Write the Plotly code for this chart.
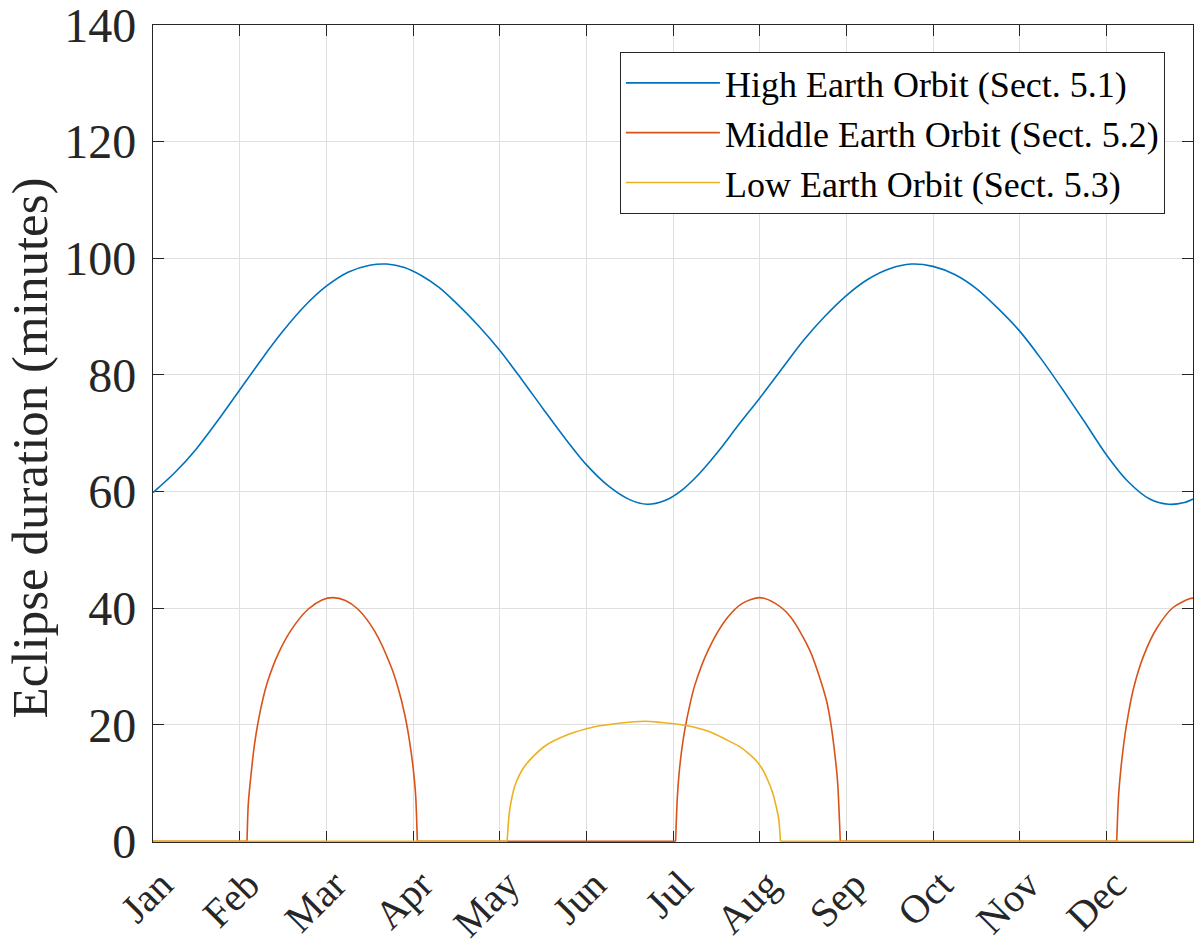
import plotly.graph_objects as go

# months as fractional position on the year axis (0 = Jan 1, 12 = end of Dec)
month_labels = ["Jan", "Feb", "Mar", "Apr", "May", "Jun",
                "Jul", "Aug", "Sep", "Oct", "Nov", "Dec"]
month_ticks = list(range(12))

# High Earth Orbit (Sect. 5.1)
heo_t = [0.0, 0.25, 0.5, 0.75, 1.0, 1.25, 1.5, 1.75, 2.0, 2.25, 2.5, 2.7, 2.9,
         3.1, 3.3, 3.5, 3.75, 4.0, 4.25, 4.5, 4.75, 5.0, 5.25, 5.5, 5.7, 5.9,
         6.1, 6.3, 6.54, 6.75, 7.0, 7.25, 7.5, 7.75, 8.0, 8.25, 8.5, 8.75,
         9.0, 9.25, 9.5, 9.75, 10.0, 10.25, 10.5, 10.75, 11.0, 11.25, 11.5,
         11.72, 11.9, 12.0]
heo_min = [59.8, 63.2, 67.3, 72.2, 77.4, 82.6, 87.5, 91.8, 95.2, 97.6, 98.8,
           99.0, 98.4, 97.0, 95.0, 92.3, 88.5, 84.2, 79.3, 74.2, 69.2, 64.6,
           61.0, 58.6, 57.8, 58.4, 60.2, 63.0, 67.2, 71.3, 76.0, 80.9, 85.8,
           90.0, 93.6, 96.4, 98.2, 99.0, 98.6, 97.2, 94.8, 91.4, 87.5, 82.7,
           77.4, 71.9, 66.3, 61.7, 58.7, 57.8, 58.1, 58.7]

# Middle Earth Orbit (Sect. 5.2)
meo_t = [0.0, 1.085, 1.10, 1.135, 1.17, 1.212, 1.265, 1.327, 1.443, 1.597,
         1.789, 1.95, 2.078, 2.22, 2.366, 2.559, 2.751, 2.83, 2.905, 2.96,
         3.0, 3.03, 3.05,
         6.03, 6.05, 6.07, 6.10, 6.137, 6.19, 6.25, 6.406, 6.62, 6.80, 7.0,
         7.18, 7.35, 7.58, 7.77, 7.82, 7.87, 7.90, 7.93,
         11.12, 11.14, 11.165, 11.20, 11.235, 11.31, 11.43, 11.58, 11.77,
         11.96, 12.0]
meo_min = [0.0, 0.0, 6.5, 12.0, 16.5, 20.4, 24.2, 27.6, 32.1, 36.3,
           39.8, 41.4, 41.8, 41.3, 39.8, 36.0, 29.8, 26.2, 21.7, 17.2,
           12.8, 8.0, 0.0,
           0.0, 7.5, 11.6, 15.6, 19.2, 23.1, 26.7, 32.8, 38.2, 40.8, 41.8,
           40.8, 38.6, 32.7, 24.2, 20.3, 14.6, 10.0, 0.0,
           0.0, 7.5, 12.0, 16.6, 20.2, 26.0, 31.8, 36.5, 40.1,
           41.6, 41.7]

# Low Earth Orbit (Sect. 5.3)
leo_t = [0.0, 4.086, 4.10, 4.117, 4.175, 4.29, 4.52, 4.79, 5.098, 5.40, 5.675,
         5.85, 6.137, 6.40, 6.62, 6.75, 6.87, 6.95, 7.03, 7.09, 7.15, 7.19,
         7.22, 7.24, 12.0]
leo_min = [0.0, 0.0, 3.0, 5.5, 9.5, 12.9, 16.3, 18.3, 19.65, 20.3, 20.6,
           20.4, 19.9, 18.9, 17.4, 16.4, 15.1, 14.0, 12.4, 10.6, 8.3, 6.0,
           3.8, 0.0, 0.0]

FONT = "Liberation Serif"
INK = "#262626"


def split_at_corners(t, v):
    # break the line where a flat zero run meets an arc, so the spline
    # keeps the sharp corner at the baseline
    xs, ys = [], []
    n = len(t)
    for i in range(n):
        xs.append(t[i]); ys.append(v[i])
        if 0 < i < n - 1 and v[i] == 0 and ((v[i - 1] == 0) != (v[i + 1] == 0)):
            xs += [None, t[i]]; ys += [None, v[i]]
    return xs, ys


fig = go.Figure()
fig.add_trace(go.Scatter(x=heo_t, y=heo_min, mode="lines",
                         line=dict(color="#0072BD", width=1.6, shape="spline", smoothing=0.8),
                         name="High Earth Orbit (Sect. 5.1)"))
mx, my = split_at_corners(meo_t, meo_min)
fig.add_trace(go.Scatter(x=mx, y=my, mode="lines", connectgaps=False,
                         line=dict(color="#D95319", width=1.6, shape="spline", smoothing=0.8),
                         name="Middle Earth Orbit (Sect. 5.2)"))
lx, ly = split_at_corners(leo_t, leo_min)
fig.add_trace(go.Scatter(x=lx, y=ly, mode="lines", connectgaps=False,
                         line=dict(color="#EDB120", width=1.6, shape="spline", smoothing=0.8),
                         name="Low Earth Orbit (Sect. 5.3)"))

axis_common = dict(
    showline=True, linecolor=INK, linewidth=1.3, mirror="ticks",
    ticks="inside", ticklen=11, tickwidth=1.3, tickcolor=INK,
    showgrid=True, gridcolor="#dfdfdf", gridwidth=1,
    zeroline=False, layer="below traces", automargin=False,
    ticklabeloverflow="allow",
)

fig.update_xaxes(range=[0, 12], tickvals=month_ticks, ticktext=month_labels,
                 tickangle=-45, ticklabelstandoff=2, ticklabelshift=8,
                 tickfont=dict(family=FONT, size=40, color=INK), **axis_common)
fig.update_yaxes(range=[-0.12, 140], tickvals=[0, 20, 40, 60, 80, 100, 120, 140],
                 ticklabelstandoff=6,
                 tickfont=dict(family=FONT, size=48, color=INK),
                 **axis_common)

# y-axis title as a rotated annotation so it sits where the original one does
fig.add_annotation(text="Eclipse duration (minutes)", textangle=-90,
                   xref="paper", yref="paper", x=-0.118, y=0.482,
                   xanchor="center", yanchor="middle", showarrow=False,
                   font=dict(family=FONT, size=51, color=INK))

fig.update_layout(
    width=1200, height=950,
    margin=dict(l=153, r=7, t=25, b=108),
    paper_bgcolor="white", plot_bgcolor="white",
    legend=dict(x=0.973, y=0.967, xanchor="right", yanchor="top",
                bgcolor="white", bordercolor=INK, borderwidth=1,
                font=dict(family=FONT, size=36, color="black"),
                itemwidth=94),
    showlegend=True,
)

# the page's default body margin would push the figure 8px in; drop it
fig.write_html("out.html", config={"displayModeBar": False},
               post_script="document.body.style.margin = '0px';")
